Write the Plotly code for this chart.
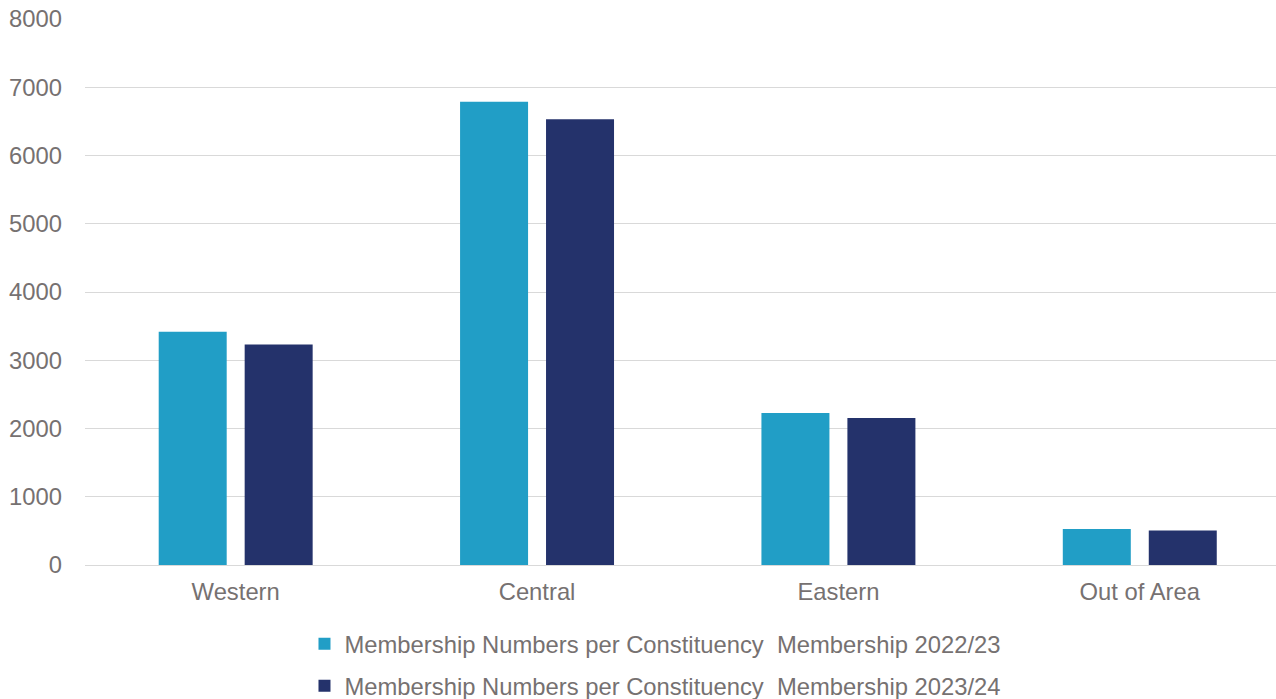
import plotly.graph_objects as go

categories = ["Western", "Central", "Eastern", "Out of Area"]
series_names = [
    "Membership Numbers per Constituency\u00a0 Membership 2022/23",
    "Membership Numbers per Constituency\u00a0 Membership 2023/24",
]
values_2022_23 = [3417, 6789, 2227, 528]
values_2023_24 = [3231, 6531, 2154, 504]
colors = ["#219EC6", "#24326B"]
y_ticks = [0, 1000, 2000, 3000, 4000, 5000, 6000, 7000, 8000]

FONT = "Liberation Sans, Arial, sans-serif"
GREY = "#767171"
FS = 23.8

fig = go.Figure()
for i, (name, vals) in enumerate(zip(series_names, [values_2022_23, values_2023_24])):
    fig.add_trace(go.Bar(
        x=categories, y=vals, name=name,
        marker=dict(color=colors[i], line=dict(width=0)),
        legendgroup=f"g{i}",
    ))

fig.update_layout(
    width=1276, height=699,
    margin=dict(l=85, r=0, t=19, b=134, autoexpand=False),
    paper_bgcolor="white", plot_bgcolor="white",
    barmode="group", bargap=0.4295, bargroupgap=0.209,
    font=dict(family=FONT, size=FS, color=GREY),
    showlegend=True,
    legend=dict(
        orientation="v", x=0.479, xanchor="center", y=-0.104, yanchor="top",
        font=dict(family=FONT, size=FS, color=GREY),
        tracegroupgap=8, traceorder="grouped",
        itemwidth=30,
    ),
    xaxis=dict(
        range=[-0.5, 3.452], showgrid=False, showline=False, zeroline=False,
        ticks="", tickfont=dict(family=FONT, size=FS, color=GREY),
        ticklabelstandoff=10,
    ),
    yaxis=dict(
        range=[0, 8000], tickvals=y_ticks, ticktext=[str(v) for v in y_ticks],
        showgrid=True, gridcolor="#D9D9D9", gridwidth=1,
        zeroline=True, zerolinecolor="#D9D9D9", zerolinewidth=1,
        showline=False, ticks="", tickfont=dict(family=FONT, size=FS, color=GREY),
        ticklabelstandoff=22,
    ),
)

fig.write_html("out.html")
